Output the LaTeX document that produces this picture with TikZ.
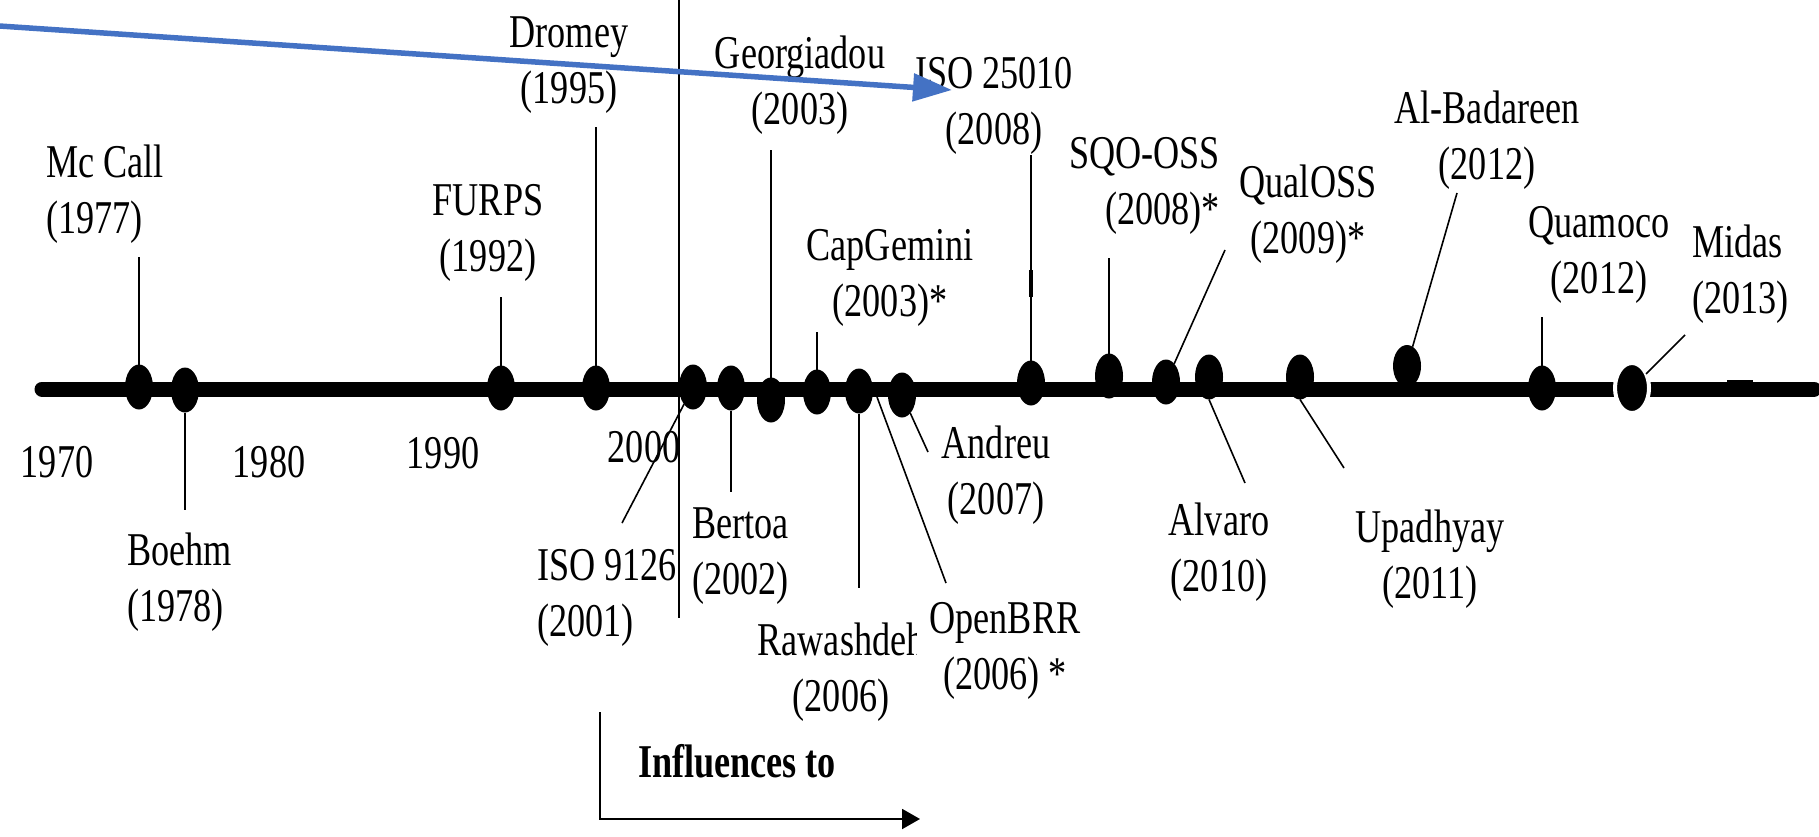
\documentclass[tikz,border=0pt]{standalone}
\usepackage{fontspec}
\setmainfont{Liberation Serif}[FakeStretch=0.77]
\usetikzlibrary{arrows.meta,shapes.geometric}
\definecolor{arrowblue}{HTML}{4472C4}
% two-line labels: centred, flush left, flush right (baseline = first line)
\newcommand\labc[2]{\vtop{\halign{\hfil##\hfil\cr#1\cr#2\cr}}}
\newcommand\labl[2]{\vtop{\halign{##\hfil\cr#1\cr#2\cr}}}
\newcommand\labr[2]{\vtop{\halign{\hfil##\cr#1\cr#2\cr}}}

\begin{document}
\begin{tikzpicture}[x=1pt,y=-1pt,
  every node/.style={font=\fontsize{47}{56}\selectfont, inner sep=0pt, outer sep=0pt},
  lab/.style={anchor=base},
  labW/.style={anchor=base west},
  labE/.style={anchor=base east},
  dot/.style={ellipse, fill=black, minimum width=28pt, minimum height=45pt},
  stem/.style={line width=2pt},
  lead/.style={line width=1.6pt},
]
\useasboundingbox (0,0) rectangle (1819,836);

% ---- labels above the axis
\node[labW] (mccallL)   at (46,177)   {\labl{Mc Call}{(1977)}};
\node[lab]  (furpsL)    at (488,215)  {\labc{FURPS}{(1992)}};
\node[lab]  (dromeyL)   at (569,47)   {\labc{Dromey}{(1995)}};
\node[lab]  (georgL)    at (800,68)   {\labc{Georgiadou}{(2003)}};
\node[lab]  (isoBL)     at (994,88)   {\labc{ISO 25010}{(2008)}};
\node[lab]  (capgL)     at (890,260)  {\labc{CapGemini}{(2003)*}};
\node[labE] (sqoL)      at (1220,168) {\labr{SQO-OSS}{(2008)*}};
\node[lab]  (qualossL)  at (1308,197) {\labc{QualOSS}{(2009)*}};
\node[lab]  (albadL)    at (1487,123) {\labc{Al-Badareen}{(2012)}};
\node[lab]  (quamocoL)  at (1599,237) {\labc{Quamoco}{(2012)}};
\node[labW] (midasL)    at (1692,257) {\labl{Midas}{(2013)}};

% ---- labels below the axis
\node[labW] (boehmL)    at (127,565)  {\labl{Boehm}{(1978)}};
\node[labW] (isoAL)     at (537,580)  {\labl{ISO 9126}{(2001)}};
\node[labW] (bertoaL)   at (692,538)  {\labl{Bertoa}{(2002)}};
\begin{scope}
  \clip (740,590) rectangle (916,740);
  \node[lab] (rawaL)    at (841,655)  {\labc{Rawashdeh}{(2006)}};
\end{scope}
\node[lab]  (openbrrL)  at (1005,633) {\labc{OpenBRR}{(2006) *}};
\node[lab]  (andreuL)   at (996,458)  {\labc{Andreu}{(2007)}};
\node[lab]  (alvaroL)   at (1219,535) {\labc{Alvaro}{(2010)}};
\node[lab]  (upadhL)    at (1430,542) {\labc{Upadhyay}{(2011)}};

% ---- decade marks
\node[lab] (y1970) at (57,477)  {1970};
\node[lab] (y1980) at (269,477) {1980};
\node[lab] (y1990) at (443,468) {1990};
\node[lab] (y2000) at (644,462) {2000};

% ---- time axis
\coordinate (axisA) at (42,389);
\coordinate (axisB) at (1814,389);
\draw[line width=15pt, line cap=round] (axisA) -- (axisB);
\fill (1727,380) rectangle (1753,390);

% ---- events on the axis
\node[dot] (mccall)   at (139,387)  {};
\node[dot] (boehm)    at (185,390)  {};
\node[dot] (furps)    at (501,388)  {};
\node[dot] (dromey)   at (596,388)  {};
\node[dot] (isoA)     at (693,387)  {};
\node[dot] (bertoa)   at (731,388)  {};
\node[dot] (georg)    at (771,400)  {};
\node[dot] (capg)     at (817,392)  {};
\node[dot] (rawa)     at (859,391)  {};
\node[dot] (andreu)   at (902,395)  {};
\node[dot] (isoB)     at (1031,383) {};
\node[dot] (sqo)      at (1109,376) {};
\node[dot] (qualoss)  at (1166,382) {};
\node[dot] (alvaro)   at (1209,377) {};
\node[dot] (upadh)    at (1300,377) {};
\node[dot, minimum height=42pt] (albad) at (1407,366) {};
\node[dot] (quamoco)  at (1542,388) {};
\node[dot, draw=white, line width=4pt, minimum width=34pt, minimum height=50pt] (midas) at (1632,388) {};

% ---- stems and leaders
\coordinate (mccallT)  at (139,257);
\coordinate (boehmB)   at (185,510);
\coordinate (furpsT)   at (501,297);
\coordinate (dromeyT)  at (596,127);
\coordinate (isoAE)    at (622,523);
\coordinate (bertoaB)  at (731,492);
\coordinate (georgT)   at (771,150);
\coordinate (capgT)    at (817,332);
\coordinate (rawaB)    at (859,588);
\coordinate (openbrrA) at (877,397);
\coordinate (openbrrB) at (946,583);
\coordinate (andreuE)  at (928,452);
\coordinate (isoBT)    at (1031,155);
\coordinate (sqoT)     at (1109,258);
\coordinate (qualossE) at (1225,250);
\coordinate (alvaroE)  at (1245,483);
\coordinate (upadhE)   at (1344,468);
\coordinate (albadE)   at (1457,193);
\coordinate (quamocoT) at (1542,317);
\coordinate (midasE)   at (1685,335);

\draw[stem] (mccallT) -- (mccall);
\draw[stem] (boehm) -- (boehmB);
\draw[stem] (furpsT) -- (furps);
\draw[stem] (dromeyT) -- (dromey);
\draw[lead] (isoA) -- (isoAE);
\draw[stem] (bertoa) -- (bertoaB);
\draw[stem] (georgT) -- (georg);
\draw[stem] (capgT) -- (capg);
\draw[stem] (rawa) -- (rawaB);
\draw[lead] (openbrrA) -- (openbrrB);
\draw[lead] (andreu) -- (andreuE);
\draw[stem] (isoBT) -- (isoB);
\draw[line width=4.5pt] (1031,270) -- (1031,297);
\draw[stem] (sqoT) -- (sqo);
\draw[lead] (qualossE) -- (qualoss);
\draw[lead] (alvaro.south) -- (alvaroE);
\draw[lead] (upadh.south) -- (upadhE);
\draw[lead] (albadE) -- (albad);
\draw[stem] (quamocoT) -- (quamoco);
\draw[lead] (midasE) -- (midas);

% ---- 2000 divider
\coordinate (divT) at (679,-5);
\coordinate (divB) at (679,618);
\draw[stem] (divT) -- (divB);

% ---- "Influences to" bracket
\node[labW] (infl) at (638,777) {\bfseries Influences to};
\coordinate (brA) at (600,712);
\coordinate (brB) at (920,819);
\draw[stem, -{Triangle[length=18pt,width=20pt]}] (brA) |- (brB);

% ---- blue pointer
\coordinate (blA) at (-5,25.7);
\coordinate (blB) at (952,90);
\draw[line width=5.5pt, arrowblue, -{Triangle[length=39pt,width=27pt]}] (blA) -- (blB);
\end{tikzpicture}
\end{document}
